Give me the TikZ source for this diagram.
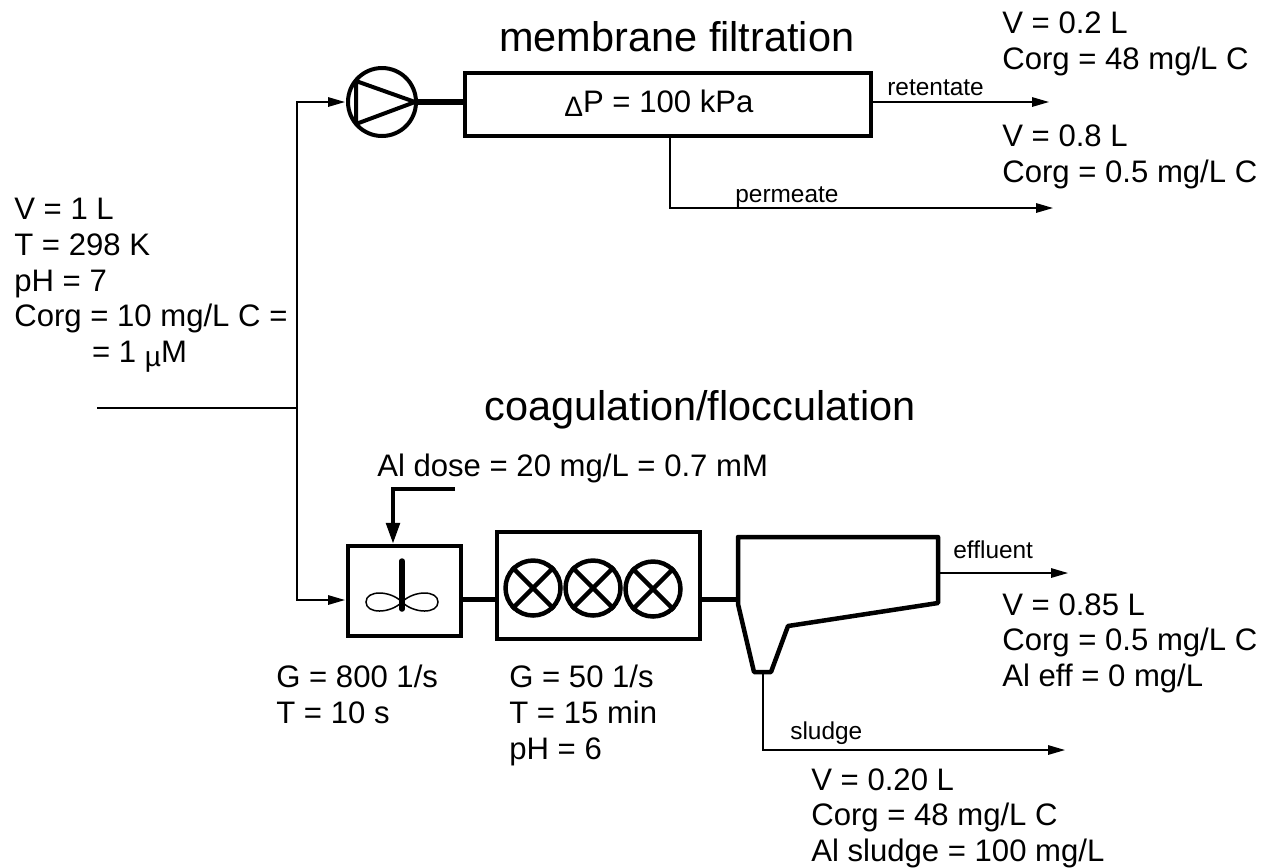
\documentclass[tikz,border=0pt]{standalone}
\usepackage{fontspec}
\setmainfont{Liberation Sans}
\usetikzlibrary{arrows.meta}
\tikzset{
  vessel/.style={draw, line width=0.09cm, inner sep=0pt},
  stream/.style={line width=0.03cm, -{Stealth[length=0.34cm,width=0.19cm,inset=0pt]}},
  pipe/.style={line width=0.1cm},
  data/.style={anchor=north west, inner sep=0pt, align=left, font=\fontsize{17.7}{20.3}\selectfont},
  title/.style={anchor=base west, inner sep=0pt, font=\fontsize{23.6}{28}\selectfont},
  tag/.style={anchor=base west, inner sep=0pt, font=\fontsize{13.9}{16}\selectfont},
}
\newcommand{\smallsym}[1]{\raisebox{-0.25ex}{\fontsize{16}{18}\selectfont #1}}
\begin{document}
\begin{tikzpicture}[x=0.02cm, y=-0.02cm, >=stealth]
    \useasboundingbox (0,0) rectangle (1270,867);

    % Feed line
    \coordinate (feed) at (97,408);
    \coordinate (split) at (297,408);
    \draw[line width=0.03cm] (feed) -- (split);

    % Membrane branch
    \node[draw, circle, line width=0.08cm, minimum size=1.36cm, inner sep=0pt] (pump) at (382,102) {};
    \node[vessel, minimum width=8.12cm, minimum height=1.26cm] (membrane) at (668,104.5) {};
    \coordinate (pumpin) at (345,102);
    \coordinate (tipa) at (356,81);
    \coordinate (tipb) at (356,124);
    \coordinate (tipc) at (415,102);
    \draw[line width=0.08cm, line join=round] (tipa) -- (tipc) -- (tipb) -- cycle;
    \draw[pipe, line width=0.12cm] (tipc) -- (membrane.west |- tipc);
    \draw[stream] (split) |- (pumpin);
    \coordinate (retentateend) at (1049,102);
    \coordinate (permeatestart) at (670,136);
    \coordinate (permeateend) at (1053,208);
    \draw[stream] (membrane.east |- retentateend) -- (retentateend);
    \draw[stream] (permeatestart) |- (permeateend);
    \node[title] (membranetitle) at (499,51.5) {membrane filtration};
    \node[data, anchor=base west] (dp) at (564,112) {\smallsym{Δ}P = 100 kPa};
    \node[tag] (retentate) at (887,95) {retentate};
    \node[tag] (permeate) at (735,202) {permeate};
    \node[data] (retdata) at (1002,11.5) {V = 0.2 L\\Corg = 48 mg/L C};
    \node[data] (perdata) at (1002,124.5) {V = 0.8 L\\Corg = 0.5 mg/L C};

    % Feed water
    \node[data] (feeddata) at (14,198) {V = 1 L\\T = 298 K\\pH = 7\\Corg = 10 mg/L C =\\\hspace*{2.5em}= 1 \smallsym{µ}M};

    % Coagulation branch
    \node[title] (coagtitle) at (484,420) {coagulation/flocculation};
    \node[data] (doselabel) at (377,454) {Al dose = 20 mg/L = 0.7 mM};
    \node[vessel, minimum width=2.26cm, minimum height=1.8cm] (mixer) at (404.5,591) {};
    \node[vessel, minimum width=4.06cm, minimum height=2.14cm] (flocc) at (598.5,585.5) {};
    \coordinate (mixerin) at (345,600);
    \draw[stream] (split) |- (mixerin);
    \coordinate (dosestart) at (455,489);
    \coordinate (dosecorner) at (393,489);
    \draw[line width=0.08cm, -{Stealth[length=0.42cm,width=0.27cm,inset=0pt]}] (dosestart) -- (dosecorner) -- (mixer.north -| dosecorner);

    % Impeller
    \coordinate (hub) at (402,602);
    \draw[line width=0.03cm] (hub) .. controls (390,590) and (366,590) .. (366,602) .. controls (366,614) and (390,614) .. (hub);
    \draw[line width=0.03cm] (hub) .. controls (414,590) and (438,590) .. (438,602) .. controls (438,614) and (414,614) .. (hub);
    \draw[line width=0.11cm, line cap=round] (402,561) -- (402,609);

    % Flocculation stirrers
    \foreach \name/\xpos/\ypos in {one/533/588, two/593/588, three/653/589} {
      \node[draw, circle, line width=0.09cm, minimum size=1.1cm, inner sep=0pt] (stir\name) at (\xpos,\ypos) {};
      \draw[line width=0.09cm] (stir\name.north west) -- (stir\name.south east);
      \draw[line width=0.09cm] (stir\name.north east) -- (stir\name.south west);
    }

    % Clarifier
    \coordinate (claa) at (738,537);
    \coordinate (clab) at (938,537);
    \coordinate (clac) at (938,603);
    \coordinate (clad) at (788,626);
    \coordinate (clae) at (771,672);
    \coordinate (claf) at (754,672);
    \coordinate (clag) at (738,604);
    \draw[line width=0.09cm, line join=round] (claa) -- (clab) -- (clac) -- (clad) -- (clae) -- (claf) -- (clag) -- cycle;
    \draw[pipe] (mixer.east |- 0,599) -- (flocc.west |- 0,599);
    \draw[pipe] (flocc.east |- 0,599) -- (claa |- 0,599);
    \coordinate (effluentend) at (1068,573);
    \coordinate (sludgestart) at (763,672);
    \coordinate (sludgeend) at (1065,750);
    \draw[stream] (clab |- effluentend) -- (effluentend);
    \draw[stream] (sludgestart) |- (sludgeend);
    \node[tag] (effluent) at (953,558) {effluent};
    \node[tag] (sludge) at (790,739) {sludge};

    % Process data
    \node[data] (mixerdata) at (276,665) {G = 800 1/s\\T = 10 s};
    \node[data] (floccdata) at (509,665) {G = 50 1/s\\T = 15 min\\pH = 6};
    \node[data] (effdata) at (1002,593) {V = 0.85 L\\Corg = 0.5 mg/L C\\Al eff = 0 mg/L};
    \node[data] (sludgedata) at (811,768) {V = 0.20 L\\Corg = 48 mg/L C\\Al sludge = 100 mg/L};
\end{tikzpicture}
\end{document}
